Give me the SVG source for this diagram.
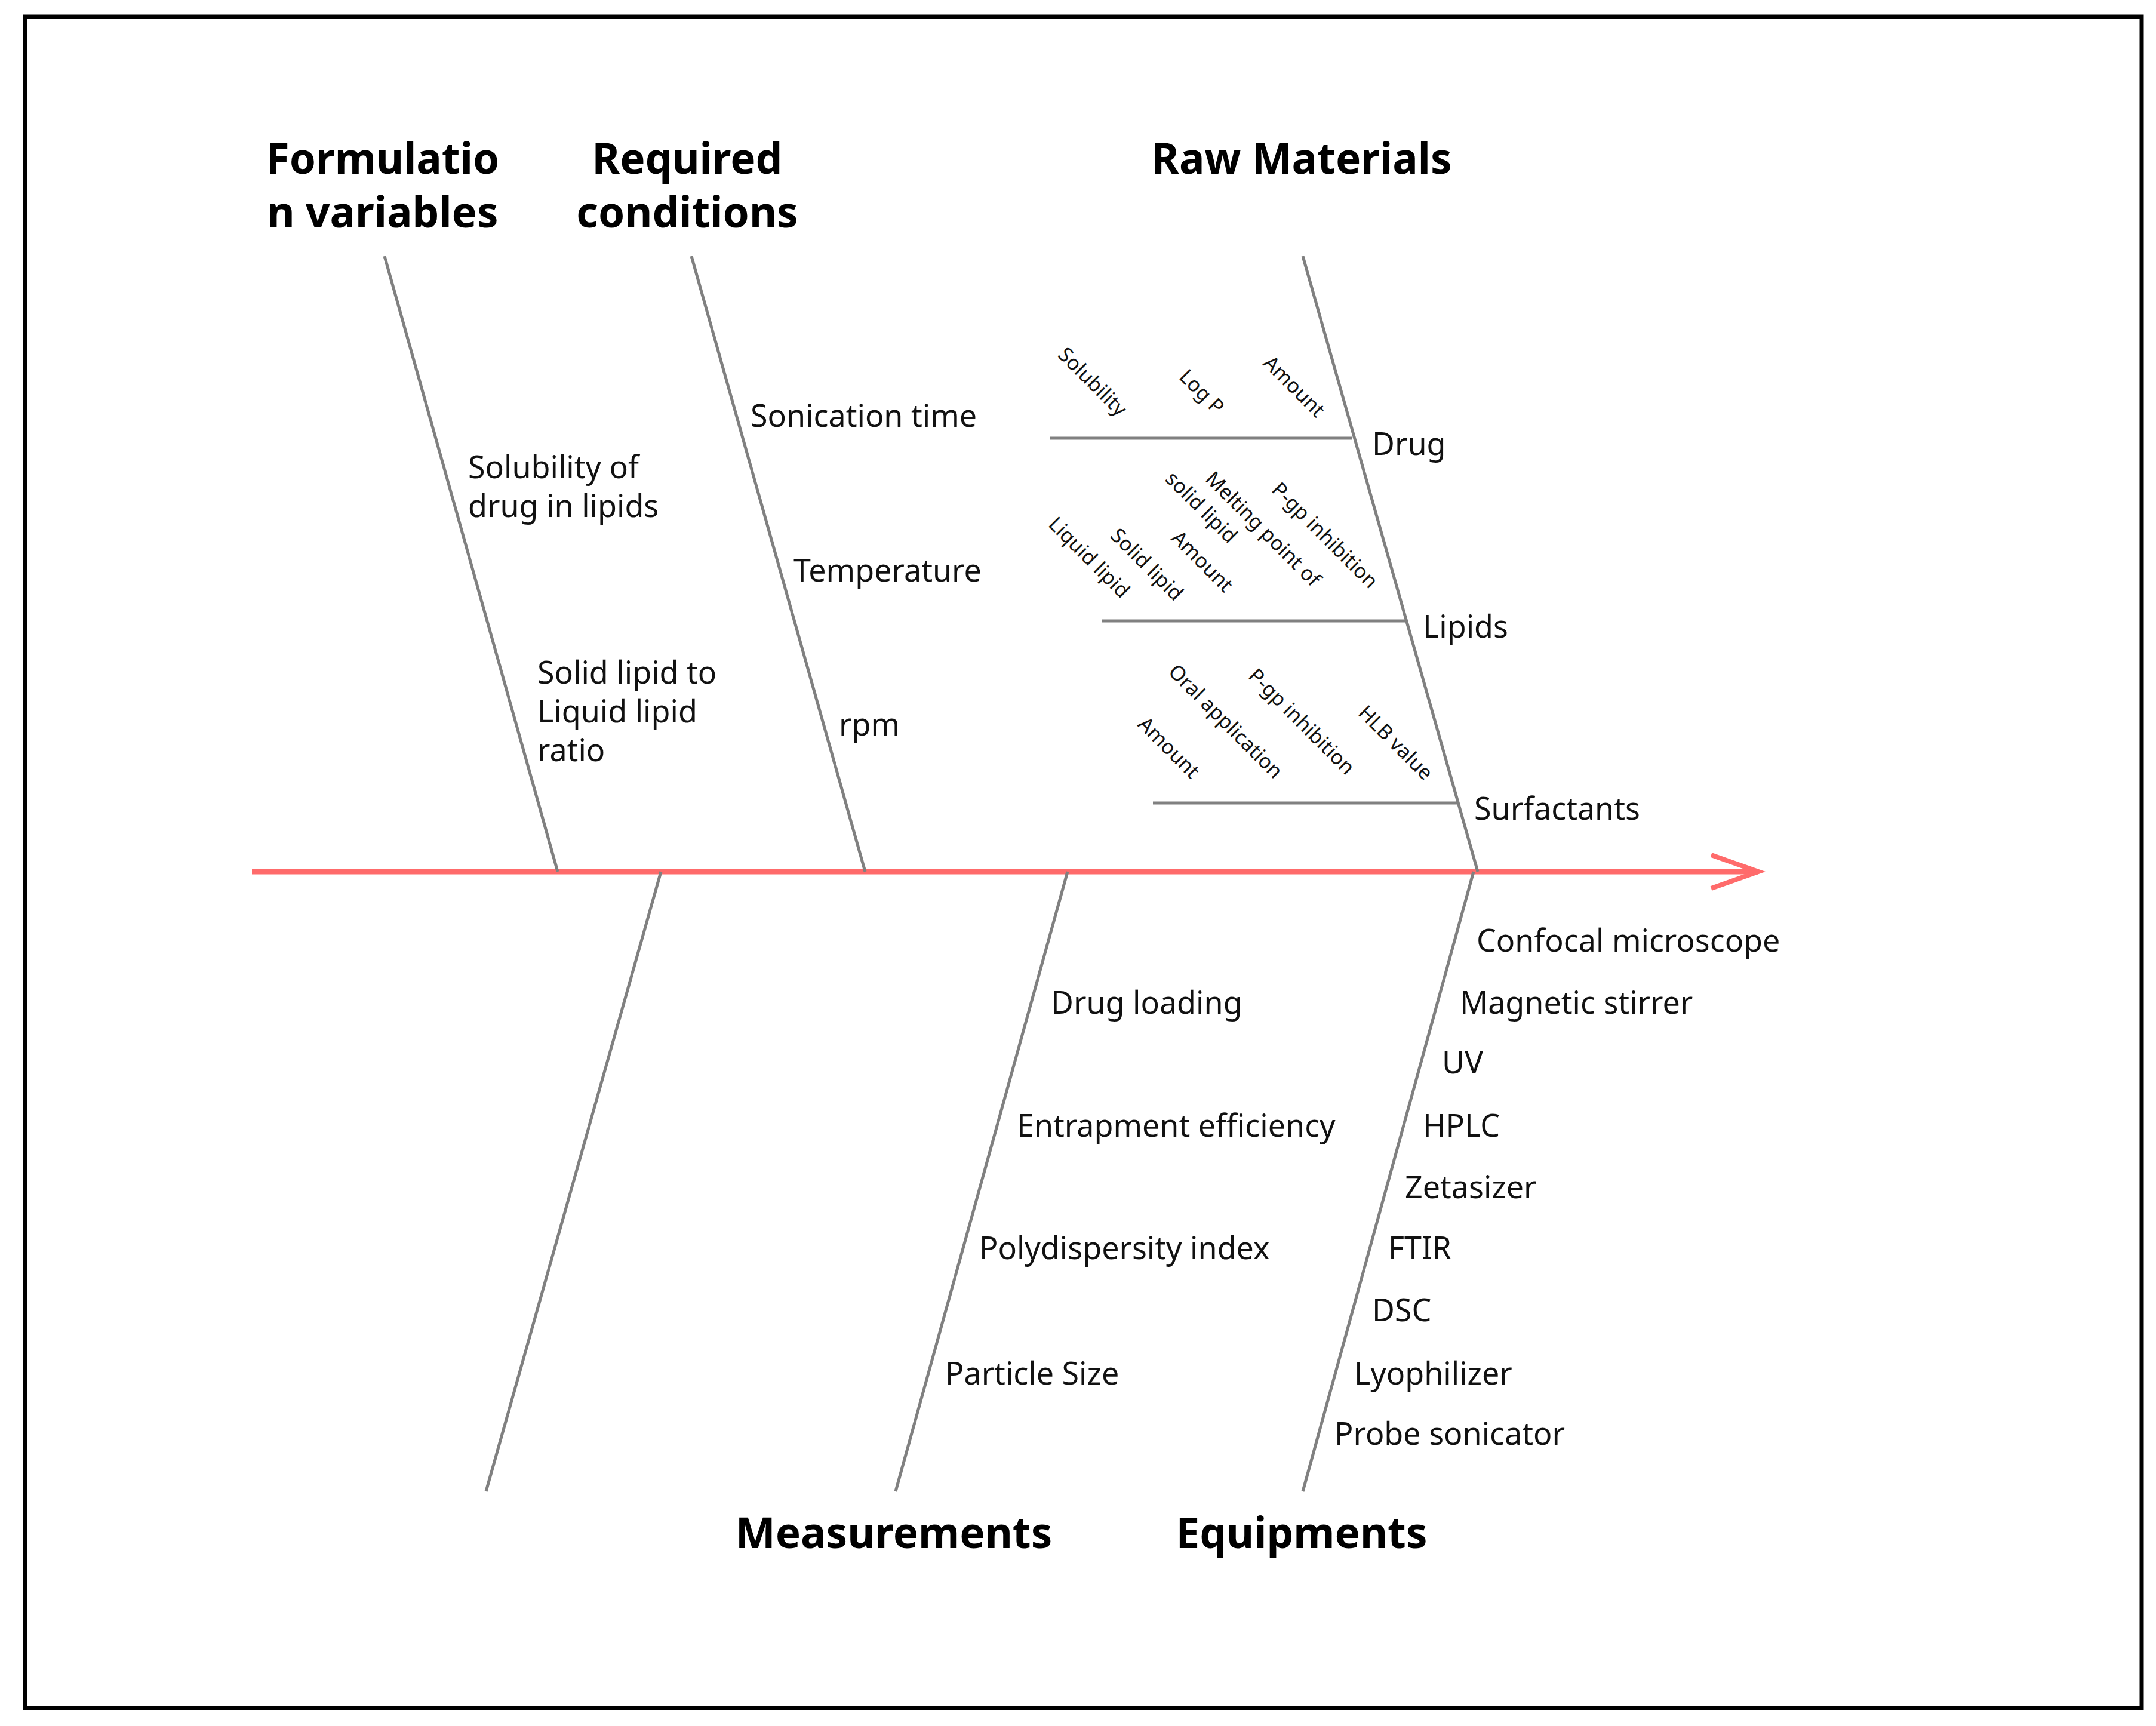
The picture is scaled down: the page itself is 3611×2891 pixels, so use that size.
<svg xmlns="http://www.w3.org/2000/svg" width="3611" height="2891" viewBox="0 0 3611 2891">
<style>
.t{font-family:"Noto Sans","DejaVu Sans",sans-serif;font-size:52px;fill:#111}
.h{font-family:"Noto Sans","DejaVu Sans",sans-serif;font-size:71px;font-weight:bold;fill:#000;text-anchor:middle}
.s{font-family:"Noto Sans","DejaVu Sans",sans-serif;font-size:34px;fill:#111}
.b{stroke:#808080;stroke-width:5;fill:none}
</style>
<rect x="0" y="0" width="3611" height="2891" fill="#fff"/>
<rect x="42" y="28" width="3545" height="2833" fill="none" stroke="#000" stroke-width="7"/>
<g id="connectors">
<line x1="422" y1="1460" x2="2945" y2="1460" stroke="#FF6B6B" stroke-width="9"/>
<polyline points="2866,1432 2945,1460 2866,1488" fill="none" stroke="#FF6B6B" stroke-width="8"/>
<line class="b" x1="644" y1="429" x2="934" y2="1460"/>
<line class="b" x1="1158" y1="429" x2="1449" y2="1460"/>
<line class="b" x1="2182" y1="429" x2="2475" y2="1460"/>
<line class="b" x1="1107" y1="1460" x2="814" y2="2498"/>
<line class="b" x1="1788" y1="1460" x2="1500" y2="2498"/>
<line class="b" x1="2468" y1="1460" x2="2182" y2="2498"/>
<line class="b" x1="1758" y1="734" x2="2265" y2="734"/>
<line class="b" x1="1846" y1="1040" x2="2353" y2="1040"/>
<line class="b" x1="1931" y1="1345" x2="2441" y2="1345"/>
</g>
<g id="formulation">
<text class="h" x="641" y="291">Formulatio</text>
<text class="h" x="641" y="381">n variables</text>
<text class="t" x="784" y="801">Solubility of</text>
<text class="t" x="784" y="866">drug in lipids</text>
<text class="t" x="900" y="1145">Solid lipid to</text>
<text class="t" x="900" y="1210">Liquid lipid</text>
<text class="t" x="900" y="1275">ratio</text>
</g>
<g id="required">
<text class="h" x="1151" y="291">Required</text>
<text class="h" x="1151" y="381">conditions</text>
<text class="t" x="1257" y="715">Sonication time</text>
<text class="t" x="1329" y="974">Temperature</text>
<text class="t" x="1405" y="1232">rpm</text>
</g>
<g id="raw">
<text class="h" x="2180" y="291">Raw Materials</text>
<text class="t" x="2298" y="762">Drug</text>
<text class="t" x="2383" y="1068">Lipids</text>
<text class="t" x="2469" y="1373">Surfactants</text>
<text class="s" transform="translate(1770,596) rotate(45)">Solubility</text>
<text class="s" transform="translate(1973,633) rotate(45)">Log P</text>
<text class="s" transform="translate(2114,610) rotate(45)">Amount</text>
<text class="s" transform="translate(2017,804) rotate(45)">Melting point of</text>
<text class="s" transform="translate(1950,804) rotate(45)">solid lipid</text>
<text class="s" transform="translate(2128,822) rotate(45)">P-gp inhibition</text>
<text class="s" transform="translate(1960,903) rotate(45)">Amount</text>
<text class="s" transform="translate(1858,899) rotate(45)">Solid lipid</text>
<text class="s" transform="translate(1754,880) rotate(45)">Liquid lipid</text>
<text class="s" transform="translate(1955,1127) rotate(45)">Oral application</text>
<text class="s" transform="translate(2089,1134) rotate(45)">P-gp inhibition</text>
<text class="s" transform="translate(2273,1196) rotate(45)">HLB value</text>
<text class="s" transform="translate(1904,1215) rotate(45)">Amount</text>
</g>
<g id="measurements">
<text class="h" x="1497" y="2593">Measurements</text>
<text class="t" x="1760" y="1698">Drug loading</text>
<text class="t" x="1703" y="1904">Entrapment efficiency</text>
<text class="t" x="1640" y="2109">Polydispersity index</text>
<text class="t" x="1583" y="2319">Particle Size</text>
</g>
<g id="equipments">
<text class="h" x="2180" y="2593">Equipments</text>
<text class="t" x="2473" y="1594">Confocal microscope</text>
<text class="t" x="2445" y="1698">Magnetic stirrer</text>
<text class="t" x="2415" y="1798">UV</text>
<text class="t" x="2383" y="1904">HPLC</text>
<text class="t" x="2353" y="2007">Zetasizer</text>
<text class="t" x="2325" y="2109">FTIR</text>
<text class="t" x="2298" y="2213">DSC</text>
<text class="t" x="2268" y="2319">Lyophilizer</text>
<text class="t" x="2235" y="2420">Probe sonicator</text>
</g>
</svg>
